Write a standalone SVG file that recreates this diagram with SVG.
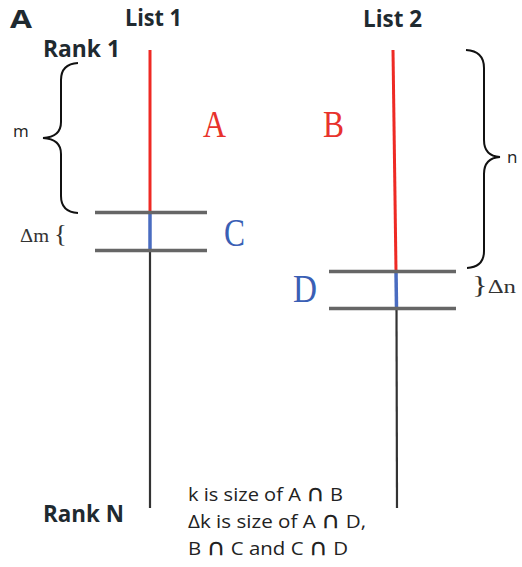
<svg xmlns="http://www.w3.org/2000/svg" width="522" height="567" viewBox="0 0 522 567">
<style>
.hdr{font-family:"Open Sans","Liberation Sans",sans-serif;font-weight:bold;fill:#1f2a30}
.ser{font-family:"Liberation Serif",serif}
.lbl{font-family:"Open Sans","Liberation Sans",sans-serif;fill:#222}
.cap{font-family:"DejaVu Sans",sans-serif}
.bar{stroke:#666;stroke-width:3.5;fill:none}
.brace{stroke:#111;stroke-width:2;fill:none}
</style>
<rect width="522" height="567" fill="#fff"/>
<text x="10" y="28" class="hdr" font-size="25" fill="#111" textLength="22" lengthAdjust="spacingAndGlyphs">A</text>
<g id="list1">
<text x="125" y="26" class="hdr" font-size="23" textLength="57" lengthAdjust="spacingAndGlyphs">List 1</text>
<text x="43" y="57" class="hdr" font-size="24" textLength="77" lengthAdjust="spacingAndGlyphs">Rank 1</text>
<text x="43" y="522" class="hdr" font-size="24" textLength="81" lengthAdjust="spacingAndGlyphs">Rank N</text>
<line x1="150" y1="50" x2="150" y2="212" stroke="#ee2a24" stroke-width="3"/>
<line x1="150" y1="212" x2="150" y2="250" stroke="#4a6cc0" stroke-width="3.5"/>
<line x1="150" y1="250" x2="150" y2="508" stroke="#333" stroke-width="2.2"/>
<line x1="95" y1="212.5" x2="207" y2="212.5" class="bar"/>
<line x1="95" y1="250.5" x2="207" y2="250.5" class="bar"/>
<text x="203" y="137" class="ser" font-size="37" fill="#e8322c" textLength="23" lengthAdjust="spacingAndGlyphs">A</text>
<text x="224" y="246" class="ser" font-size="40" fill="#3a5fb5" textLength="21" lengthAdjust="spacingAndGlyphs">C</text>
</g>
<g id="list2">
<text x="363" y="27" class="hdr" font-size="23" textLength="59" lengthAdjust="spacingAndGlyphs">List 2</text>
<line x1="393" y1="50" x2="396" y2="271" stroke="#ee2a24" stroke-width="3"/>
<line x1="396" y1="271" x2="396.5" y2="308" stroke="#4a6cc0" stroke-width="3.5"/>
<line x1="396.5" y1="308" x2="397" y2="508" stroke="#333" stroke-width="2.2"/>
<line x1="329" y1="271.5" x2="456" y2="271.5" class="bar"/>
<line x1="329" y1="308.5" x2="456" y2="308.5" class="bar"/>
<text x="323" y="137" class="ser" font-size="37" fill="#e8322c" textLength="21" lengthAdjust="spacingAndGlyphs">B</text>
<text x="293" y="302" class="ser" font-size="40" fill="#3a5fb5" textLength="24" lengthAdjust="spacingAndGlyphs">D</text>
</g>
<g id="braces">
<path class="brace" d="M78,63 Q61,64 61,80 L61,122 Q61,137 43,138 Q61,139 61,154 L61,196 Q61,212 78,213"/>
<text x="13" y="137" class="lbl" font-size="17">m</text>
<text x="20" y="242" class="ser" font-size="19" fill="#333" textLength="47" lengthAdjust="spacingAndGlyphs">Δm <tspan font-size="25">{</tspan></text>
<path class="brace" d="M466,50 Q484,51 484,68 L484,140 Q484,156 500,157 Q484,158 484,174 L484,251 Q484,267 467,268"/>
<text x="507" y="163" class="lbl" font-size="17">n</text>
<text x="472" y="293" class="ser" font-size="19" fill="#333" textLength="44" lengthAdjust="spacingAndGlyphs"><tspan font-size="25">}</tspan>Δn</text>
</g>
<g id="note" class="lbl" font-size="18">
<text x="188" y="501" textLength="155" lengthAdjust="spacingAndGlyphs">k is size of A <tspan class="cap" font-size="23">∩</tspan> B</text>
<text x="188" y="528" textLength="178" lengthAdjust="spacingAndGlyphs">Δk is size of A <tspan class="cap" font-size="23">∩</tspan> D,</text>
<text x="188" y="555" textLength="160" lengthAdjust="spacingAndGlyphs">B <tspan class="cap" font-size="23">∩</tspan> C and C <tspan class="cap" font-size="23">∩</tspan> D</text>
</g>
</svg>
